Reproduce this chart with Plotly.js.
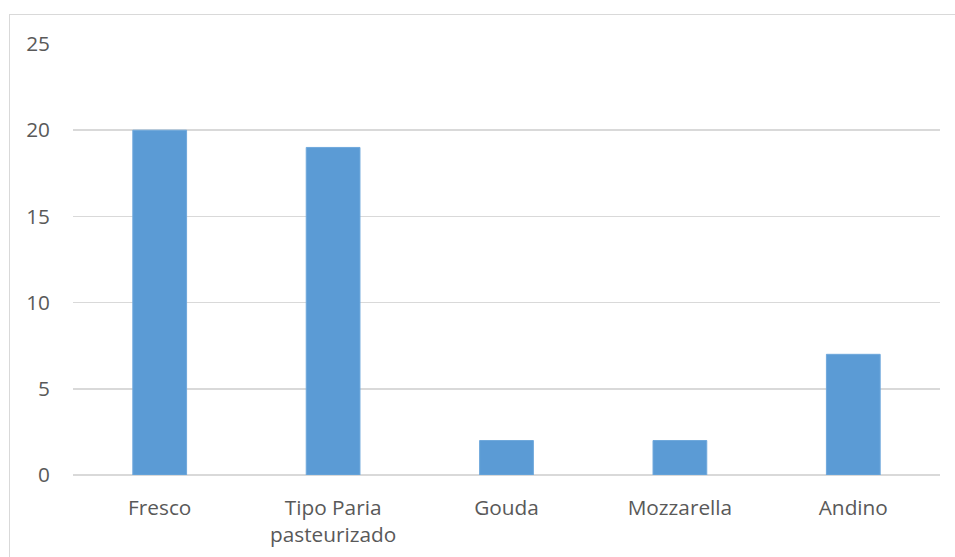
<!DOCTYPE html>
<html>
<head>
<meta charset="utf-8">
<script src="https://cdn.plot.ly/plotly-3.0.1.min.js"></script>
<style>
html,body{margin:0;padding:0;background:#fff;}
#wrap{position:relative;width:955px;height:557px;overflow:hidden;}
#chart{position:absolute;left:0;top:0;width:955px;height:557px;}
#frame{position:absolute;left:9px;top:14px;width:980px;height:600px;border:1.5px solid #d9d9d9;box-sizing:border-box;pointer-events:none;}
</style>
</head>
<body>
<div id="wrap"><div id="chart"></div><div id="frame"></div></div>
<script>
var categories = ["Fresco", "Tipo Paria<br>pasteurizado", "Gouda", "Mozzarella", "Andino"];
var values = [20, 19, 2, 2, 7];
var yTicks = [0, 5, 10, 15, 20, 25];

var font = {family: "Open Sans, Noto Sans, sans-serif", size: 20.8, color: "#595959"};

Plotly.newPlot("chart", [{
  type: "bar",
  x: categories,
  y: values,
  marker: {color: "#5B9BD5", line: {color: "#6FA8DC", width: 1}},
  width: 0.31,
  hoverinfo: "x+y"
}], {
  width: 955, height: 557,
  margin: {l: 73, r: 15, t: 44, b: 82},
  paper_bgcolor: "rgba(0,0,0,0)",
  plot_bgcolor: "rgba(0,0,0,0)",
  showlegend: false,
  font: font,
  xaxis: {
    type: "category",
    showgrid: false,
    zeroline: false,
    showline: false,
    ticks: "",
    ticklabelstandoff: 18,
    tickfont: font
  },
  yaxis: {
    range: [0, 25],
    tickvals: yTicks,
    ticktext: yTicks.map(String),
    showgrid: true,
    gridcolor: "#d9d9d9",
    gridwidth: 1.5,
    zeroline: true,
    zerolinecolor: "#d9d9d9",
    zerolinewidth: 1.5,
    showline: false,
    ticks: "",
    ticklabelstandoff: 22,
    tickfont: font
  }
}, {staticPlot: true});
</script>
</body>
</html>
